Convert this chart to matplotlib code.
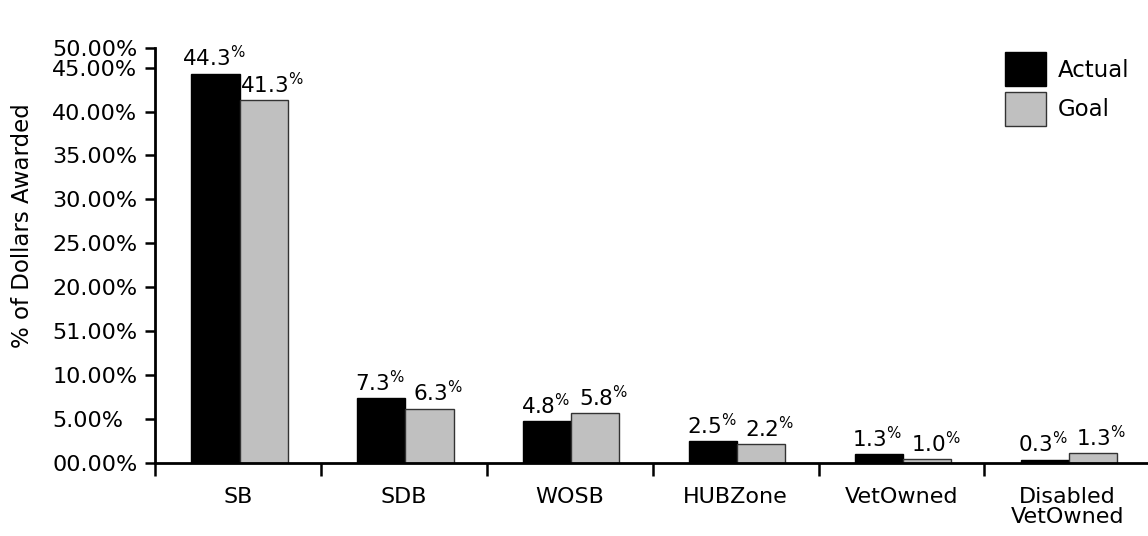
import numpy as np
import matplotlib
matplotlib.use('Agg')
import matplotlib.pyplot as plt
from matplotlib.patches import Patch

plt.rcParams['font.family'] = ['DejaVu Sans']
plt.rcParams['mathtext.fontset'] = 'dejavusans'

# categories and values
categories = ['SB', 'SDB', 'WOSB', 'HUBZone', 'VetOwned', 'Disabled\nVetOwned']
actual = [44.3, 7.4, 4.8, 2.5, 1.05, 0.4]
goal = [41.3, 6.2, 5.7, 2.15, 0.45, 1.15]
actual_labels = ['44.3', '7.3', '4.8', '2.5', '1.3', '0.3']
goal_labels = ['41.3', '6.3', '5.8', '2.2', '1.0', '1.3']

# y ticks (the original axis has a misprinted "51.00%" and a squeezed top label)
ytick_vals = [0, 5, 10, 15, 20, 25, 30, 35, 40, 45, 47.2]
ytick_labels = ['00.00%', '5.00%', '10.00%', '51.00%', '20.00%', '25.00%',
                '30.00%', '35.00%', '40.00%', '45.00%', '50.00%']

fig = plt.figure(figsize=(11.48, 5.36), dpi=100)
ax = fig.add_axes([0.135, 0.136, 0.867, 0.774])

x = np.arange(len(categories))
w = 0.29
bars_a = ax.bar(x - w / 2 + 0.01, actual, w, color='black', edgecolor='black', linewidth=1)
bars_g = ax.bar(x + w / 2 + 0.01, goal, w, color='#c0c0c0', edgecolor='#333333', linewidth=1)

# value labels with a small superscript percent sign
for b, lab in zip(bars_a, actual_labels):
    ax.text(b.get_x() + b.get_width() / 2 - 0.01, b.get_height() + 0.35, lab + r'$^{\%}$',
            ha='center', va='bottom', fontsize=15.5)
for b, lab in zip(bars_g, goal_labels):
    ax.text(b.get_x() + b.get_width() / 2 + 0.05, b.get_height() + 0.35, lab + r'$^{\%}$',
            ha='center', va='bottom', fontsize=15.5)

ax.set_xlim(-0.5, len(categories) - 0.5)
ax.set_ylim(0, 47.2)
ax.set_yticks(ytick_vals)
ax.set_yticklabels(ytick_labels, fontsize=16, ha='left')

# ticks sit on the category boundaries, labels at the centres
ax.set_xticks(np.arange(len(categories) + 1) - 0.5)
ax.set_xticklabels([])
ax.set_xticks(x, minor=True)
ax.set_xticklabels(categories, minor=True, fontsize=16, linespacing=1.0)
ax.tick_params(axis='x', which='minor', length=0, pad=17)
ax.tick_params(axis='x', which='major', length=9, width=1.8, direction='out')
ax.tick_params(axis='y', length=7, width=1.8, direction='out', pad=67)

for s in ['top', 'right']:
    ax.spines[s].set_visible(False)
for s in ['left', 'bottom']:
    ax.spines[s].set_linewidth(2)

ax.set_ylabel('% of Dollars Awarded', fontsize=16.5)
ax.yaxis.set_label_coords(-0.122, 0.573)

handles = [Patch(facecolor='black', edgecolor='black', label='Actual'),
           Patch(facecolor='#c0c0c0', edgecolor='#333333', label='Goal')]
ax.legend(handles=handles, loc='upper right', frameon=False, fontsize=16.5,
          handlelength=1.75, handleheight=1.9, handletextpad=0.55,
          labelspacing=0.25, bbox_to_anchor=(1.0, 1.04))

fig.savefig('out.png', dpi=100)
